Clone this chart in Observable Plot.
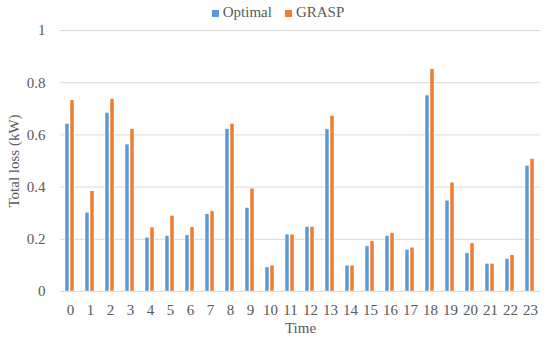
<!DOCTYPE html>
<html>
<head>
<meta charset="utf-8">
<script src="https://cdn.jsdelivr.net/npm/d3@7"></script>
<script src="https://cdn.jsdelivr.net/npm/@observablehq/plot@0.6"></script>
<style>
  body { margin: 0; background: #fff; font-family: "Liberation Serif", serif; }
  #legend { height: 20px; display: flex; justify-content: center; align-items: center; gap: 13px; font-size: 15px; color: #595959; padding-left: 6px; padding-top: 5px; box-sizing: border-box; }
  #legend span.sw { display: inline-block; width: 7px; height: 7px; margin-right: 4px; }
</style>
</head>
<body>
<div id="legend"></div>
<div id="chart"></div>
<script>
const times = [0,1,2,3,4,5,6,7,8,9,10,11,12,13,14,15,16,17,18,19,20,21,22,23];
const seriesNames = ["Optimal", "GRASP"];
const seriesColors = ["#5B9BD5", "#ED7D31"];
const optimal = [0.642,0.302,0.684,0.563,0.206,0.212,0.215,0.296,0.622,0.320,0.092,0.218,0.247,0.621,0.099,0.173,0.212,0.159,0.751,0.348,0.146,0.106,0.124,0.481];
const grasp = [0.732,0.384,0.737,0.622,0.245,0.290,0.246,0.307,0.642,0.394,0.099,0.218,0.247,0.673,0.099,0.192,0.223,0.168,0.852,0.417,0.184,0.106,0.139,0.507];
const yTicks = [0, 0.2, 0.4, 0.6, 0.8, 1];

const data = [];
times.forEach((t, i) => {
  data.push({time: t, series: "Optimal", value: optimal[i]});
  data.push({time: t, series: "GRASP", value: grasp[i]});
});

const legend = document.getElementById("legend");
seriesNames.forEach((s, i) => {
  const item = document.createElement("div");
  item.innerHTML = `<span class="sw" style="background:${seriesColors[i]}"></span>${s}`;
  legend.appendChild(item);
});

const chart = Plot.plot({
  width: 550,
  height: 318,
  marginTop: 10,
  marginBottom: 47,
  marginLeft: 54,
  marginRight: 4,
  style: {fontFamily: "Liberation Serif, serif", fontSize: "15px", color: "#595959", background: "#fff"},
  fx: {domain: times, padding: 0, label: "Time", tickSize: 0, tickPadding: 13, labelAnchor: "center", labelOffset: 41, axis: "bottom"},
  x: {domain: seriesNames, paddingInner: 0.13, paddingOuter: 0.78, axis: null},
  y: {domain: [0, 1], ticks: yTicks, tickFormat: d => String(d), tickSize: 0, tickPadding: 15, label: "Total loss (kW)", labelAnchor: "center", labelOffset: 52, labelArrow: "none", grid: false},
  color: {domain: seriesNames, range: seriesColors},
  marks: [
    Plot.gridY(yTicks, {stroke: "#D9D9D9", strokeOpacity: 1, strokeWidth: 1}),
    Plot.barY(data, {fx: "time", x: "series", y: "value", fill: "series", stroke: "#fff", strokeWidth: 0.5})
  ]
});
document.getElementById("chart").appendChild(chart);
</script>
</body>
</html>
